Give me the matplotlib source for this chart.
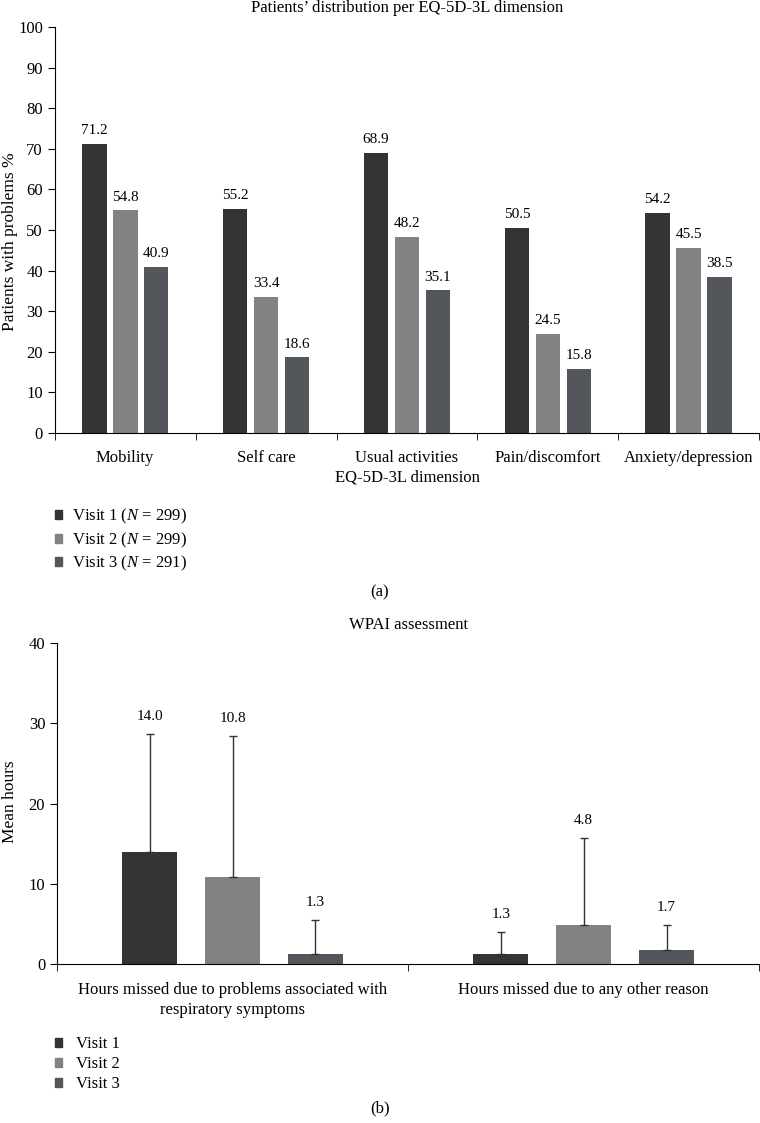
import numpy as np
import matplotlib.pyplot as plt
from matplotlib.patches import Patch

plt.rcParams['font.family'] = ['Liberation Serif', 'DejaVu Serif']
plt.rcParams['font.size'] = 12
plt.rcParams['mathtext.fontset'] = 'custom'
plt.rcParams['mathtext.rm'] = 'Liberation Serif'
plt.rcParams['mathtext.it'] = 'Liberation Serif:italic'

# EQ-5D-3L data (% patients with problems)
dimensions = ['Mobility', 'Self care', 'Usual activities', 'Pain/discomfort', 'Anxiety/depression']
visit1_eq = [71.2, 55.2, 68.9, 50.5, 54.2]
visit2_eq = [54.8, 33.4, 48.2, 24.5, 45.5]
visit3_eq = [40.9, 18.6, 35.1, 15.8, 38.5]
eq_legend = ['Visit 1 ($N$ = 299)', 'Visit 2 ($N$ = 299)', 'Visit 3 ($N$ = 291)']

# WPAI data (mean hours and SD)
wpai_cats = ['Hours missed due to problems associated with\nrespiratory symptoms',
             'Hours missed due to any other reason']
visit1_mean = [14.0, 1.3]
visit2_mean = [10.8, 4.8]
visit3_mean = [1.3, 1.7]
visit1_sd = [14.7, 2.7]
visit2_sd = [17.6, 10.9]
visit3_sd = [4.2, 3.1]
wpai_legend = ['Visit 1', 'Visit 2', 'Visit 3']

colors = ['#333436', '#808284', '#53565a']
val_size = 11

fig = plt.figure(figsize=(7.6, 11.23), dpi=100)

# ---- (a) EQ-5D-3L ----
ax1 = fig.add_axes([0.072, 0.6144, 0.927, 0.3616])
x = np.arange(len(dimensions))
offs = 0.22
width = 0.175
for i, vals in enumerate([visit1_eq, visit2_eq, visit3_eq]):
    bars = ax1.bar(x + (i - 1) * offs, vals, width, color=colors[i])
    for b, v in zip(bars, vals):
        ax1.annotate(f'{v:.1f}', (b.get_x() + b.get_width() / 2, v),
                     xytext=(0, 5), textcoords='offset points',
                     ha='center', va='bottom', fontsize=val_size)
ax1.set_xlim(-0.5, len(dimensions) - 0.5)
ax1.set_ylim(0, 100)
ax1.set_yticks(range(0, 101, 10))
ax1.set_xticks(x)
ax1.set_xticklabels(dimensions)
ax1.set_xticks(np.arange(-0.5, len(dimensions)), minor=True)
ax1.tick_params(axis='x', which='major', length=0, pad=12)
ax1.tick_params(axis='x', which='minor', length=5, direction='out')
ax1.tick_params(axis='y', length=5, direction='out')
ax1.spines['top'].set_visible(False)
ax1.spines['right'].set_visible(False)
ax1.set_xlabel('EQ-5D-3L dimension', labelpad=3)
ax1.set_title('Patients\u2019 distribution per EQ-5D-3L dimension', fontsize=12, pad=11)
fig.text(10 / 760, 1 - 242 / 1123, 'Patients with problems %', rotation=90,
         ha='center', va='center', fontsize=12.5)

handles = [Patch(color=c) for c in colors]
fig.legend(handles, eq_legend, loc='upper left', bbox_to_anchor=(0.072, 1 - 507 / 1123),
           frameon=False, handlelength=0.45, handleheight=0.45, handletextpad=0.6,
           labelspacing=0.25, borderpad=0, borderaxespad=0)
fig.text(0.5, 1 - 592 / 1123, '(a)', ha='center', va='center')

# ---- (b) WPAI ----
ax2 = fig.add_axes([0.075, 0.1416, 0.924, 0.2858])
x2 = np.arange(len(wpai_cats))
offs2 = 0.236
width2 = 0.157
for i, (m, s) in enumerate(zip([visit1_mean, visit2_mean, visit3_mean],
                               [visit1_sd, visit2_sd, visit3_sd])):
    pos = x2 + (i - 1) * offs2
    ax2.bar(pos, m, width2, color=colors[i], zorder=2)
    ax2.errorbar(pos, m, yerr=[np.zeros(len(m)), s], fmt='none',
                 ecolor='#333333', elinewidth=1, capsize=3, capthick=1, zorder=3)
    for p, mv, sv in zip(pos, m, s):
        ax2.annotate(f'{mv:.1f}', (p, mv + sv), xytext=(0, 8),
                     textcoords='offset points', ha='center', va='bottom',
                     fontsize=val_size)
ax2.set_xlim(-0.5, len(wpai_cats) - 0.5)
ax2.set_ylim(0, 40)
ax2.set_yticks(range(0, 41, 10))
ax2.set_xticks(x2)
ax2.set_xticklabels(wpai_cats, linespacing=1.35)
ax2.set_xticks(np.arange(-0.5, len(wpai_cats)), minor=True)
ax2.tick_params(axis='x', which='major', length=0, pad=13)
ax2.tick_params(axis='x', which='minor', length=5, direction='out')
ax2.tick_params(axis='y', length=5, direction='out')
ax2.spines['top'].set_visible(False)
ax2.spines['right'].set_visible(False)
ax2.set_title('WPAI assessment', fontsize=12, pad=10)
fig.text(10 / 760, 1 - 802 / 1123, 'Mean hours', rotation=90,
         ha='center', va='center', fontsize=12.5)

fig.legend(handles, wpai_legend, loc='upper left', bbox_to_anchor=(0.072, 1 - 1036 / 1123),
           frameon=False, handlelength=0.45, handleheight=0.45, handletextpad=0.8,
           labelspacing=0.25, borderpad=0, borderaxespad=0)
fig.text(0.5, 1 - 1108 / 1123, '(b)', ha='center', va='center')

fig.savefig('out.png', dpi=100)
